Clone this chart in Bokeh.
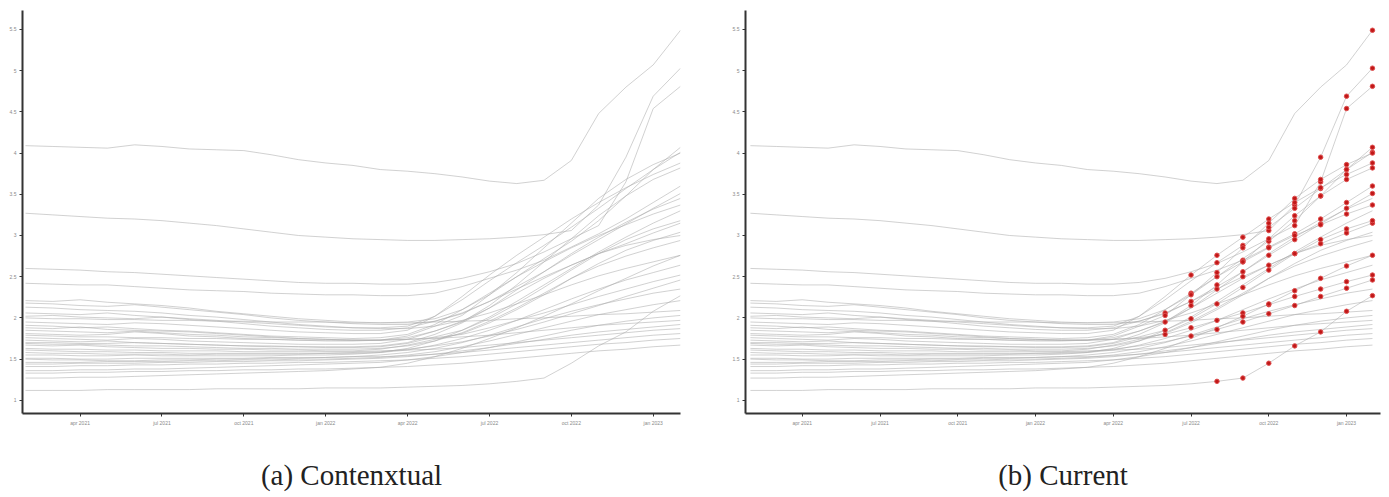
from bokeh.plotting import figure
from bokeh.layouts import row
from bokeh.models import FixedTicker, Range1d, ColumnDataSource
from bokeh.embed import file_html
from bokeh.resources import INLINE

# ---------------- data ----------------
months = list(range(25))  # feb 2021 ... feb 2023, monthly
x_tick_pos = [2, 5, 8, 11, 14, 17, 20, 23]
x_tick_labels = ["apr 2021", "jul 2021", "oct 2021", "jan 2022",
                 "apr 2022", "jul 2022", "oct 2022", "jan 2023"]
y_tick_pos = [1.0, 1.5, 2.0, 2.5, 3.0, 3.5, 4.0, 4.5, 5.0, 5.5]
y_tick_labels = ["1", "1.5", "2", "2.5", "3", "3.5", "4", "4.5", "5", "5.5"]

s01 = [4.09,4.08,4.07,4.06,4.10,4.08,4.05,4.04,4.03,3.98,3.92,3.88,3.85,3.80,3.78,3.75,3.71,3.66,3.63,3.67,3.91,4.48,4.80,5.07,5.49]
s02 = [3.27,3.25,3.23,3.21,3.20,3.18,3.15,3.12,3.08,3.04,3.00,2.98,2.96,2.95,2.94,2.94,2.95,2.96,2.98,3.01,3.06,3.37,3.95,4.69,5.03]
s03 = [2.60,2.59,2.58,2.56,2.55,2.53,2.51,2.49,2.47,2.45,2.43,2.42,2.42,2.41,2.41,2.43,2.48,2.56,2.66,2.80,2.96,3.12,3.65,4.54,4.81]
s04 = [2.42,2.41,2.40,2.40,2.38,2.36,2.34,2.33,2.32,2.30,2.29,2.28,2.28,2.27,2.27,2.30,2.38,2.48,2.58,2.70,2.86,3.02,3.20,3.40,3.60]
c01 = [2.21,2.20,2.22,2.19,2.17,2.15,2.12,2.08,2.05,2.02,1.99,1.97,1.95,1.94,1.95,1.99,2.10,2.28,2.50,2.72,2.93,3.18,3.48,3.80,4.07]
c02 = [2.18,2.17,2.15,2.14,2.16,2.13,2.10,2.07,2.04,2.00,1.97,1.95,1.93,1.92,1.92,1.96,2.05,2.20,2.38,2.56,2.76,2.95,3.14,3.33,3.51]
c03 = [2.13,2.12,2.10,2.09,2.08,2.06,2.03,2.01,1.98,1.95,1.92,1.90,1.88,1.87,1.87,1.90,1.97,2.06,2.17,2.28,2.40,2.51,2.60,2.68,2.76]
c04 = [2.06,2.05,2.04,2.06,2.03,2.01,1.99,1.97,1.95,1.93,1.91,1.89,1.88,1.88,1.90,2.02,2.22,2.45,2.67,2.88,3.10,3.33,3.57,3.80,4.01]
c05 = [2.02,2.03,2.01,2.00,1.99,2.01,1.98,1.96,1.93,1.90,1.88,1.86,1.85,1.85,1.88,1.96,2.06,2.20,2.35,2.50,2.64,2.78,2.90,3.03,3.15]
c06 = [2.00,1.99,1.99,1.98,1.98,1.97,1.97,1.96,1.96,1.95,1.95,1.95,1.94,1.94,1.94,1.95,1.96,1.97,1.99,2.00,2.02,2.04,2.05,2.07,2.09]
c07 = [1.95,1.94,1.93,1.92,1.94,1.93,1.91,1.89,1.87,1.85,1.83,1.82,1.81,1.81,1.85,2.02,2.26,2.52,2.76,2.98,3.20,3.40,3.58,3.74,3.88]
c08 = [1.91,1.90,1.88,1.89,1.87,1.85,1.84,1.82,1.80,1.78,1.77,1.76,1.75,1.76,1.80,1.92,2.10,2.30,2.50,2.68,2.85,3.00,3.13,3.26,3.37]
c09 = [1.85,1.84,1.83,1.82,1.84,1.82,1.80,1.79,1.77,1.76,1.75,1.74,1.73,1.73,1.74,1.76,1.80,1.88,1.97,2.06,2.16,2.26,2.35,2.44,2.52]
c10 = [1.81,1.80,1.79,1.80,1.83,1.81,1.78,1.77,1.75,1.74,1.73,1.72,1.72,1.73,1.78,1.90,2.03,2.28,2.55,2.85,3.15,3.45,3.68,3.86,4.00]
c11 = [1.79,1.78,1.77,1.77,1.76,1.76,1.75,1.75,1.74,1.74,1.73,1.73,1.73,1.73,1.74,1.75,1.77,1.79,1.82,1.85,1.88,1.91,1.93,1.95,1.97]
c12 = [1.76,1.75,1.74,1.73,1.75,1.74,1.72,1.71,1.70,1.69,1.68,1.68,1.68,1.69,1.74,1.84,1.95,2.15,2.40,2.68,2.96,3.24,3.48,3.68,3.82]
c13 = [1.73,1.72,1.71,1.72,1.70,1.69,1.68,1.67,1.66,1.65,1.65,1.64,1.64,1.65,1.69,1.77,1.85,1.99,2.17,2.37,2.58,2.78,2.95,3.08,3.18]
c14 = [1.69,1.68,1.68,1.67,1.66,1.66,1.65,1.64,1.63,1.63,1.62,1.62,1.62,1.63,1.66,1.72,1.82,1.96,2.12,2.30,2.48,2.63,2.75,2.85,2.94]
c15 = [1.67,1.66,1.67,1.65,1.64,1.63,1.63,1.62,1.62,1.61,1.61,1.60,1.60,1.62,1.67,1.74,1.81,1.94,2.10,2.28,2.48,2.66,2.82,2.94,3.04]
c16 = [1.63,1.62,1.62,1.61,1.61,1.60,1.60,1.60,1.59,1.59,1.59,1.59,1.59,1.60,1.61,1.62,1.64,1.67,1.70,1.73,1.76,1.79,1.82,1.85,1.87]
c17 = [1.61,1.60,1.59,1.59,1.58,1.58,1.57,1.57,1.57,1.57,1.57,1.57,1.58,1.59,1.62,1.66,1.71,1.78,1.86,1.95,2.05,2.15,2.26,2.36,2.46]
c18 = [1.58,1.57,1.57,1.56,1.56,1.56,1.55,1.56,1.56,1.56,1.56,1.57,1.57,1.58,1.61,1.67,1.75,1.85,1.97,2.10,2.23,2.35,2.46,2.55,2.64]
c19 = [1.55,1.55,1.54,1.54,1.55,1.54,1.54,1.54,1.54,1.54,1.55,1.55,1.56,1.58,1.63,1.72,1.85,2.01,2.20,2.40,2.60,2.80,2.98,3.15,3.30]
c20 = [1.51,1.51,1.50,1.50,1.51,1.51,1.51,1.51,1.51,1.52,1.52,1.52,1.53,1.53,1.54,1.56,1.58,1.61,1.64,1.67,1.70,1.73,1.76,1.79,1.81]
c21 = [1.46,1.46,1.46,1.47,1.47,1.47,1.48,1.48,1.49,1.49,1.50,1.50,1.51,1.52,1.55,1.59,1.65,1.72,1.80,1.88,1.96,2.04,2.10,2.16,2.21]
c22 = [1.41,1.41,1.42,1.42,1.43,1.43,1.44,1.44,1.45,1.45,1.46,1.46,1.47,1.48,1.49,1.51,1.53,1.56,1.59,1.62,1.65,1.68,1.70,1.73,1.75]
c23 = [1.36,1.36,1.37,1.37,1.38,1.38,1.39,1.40,1.41,1.42,1.43,1.44,1.45,1.46,1.49,1.53,1.58,1.64,1.71,1.78,1.85,1.91,1.96,2.00,2.03]
c24 = [1.33,1.33,1.34,1.34,1.35,1.35,1.36,1.36,1.37,1.37,1.38,1.38,1.39,1.40,1.41,1.43,1.45,1.48,1.51,1.54,1.57,1.60,1.62,1.65,1.67]
c25 = [1.27,1.27,1.28,1.28,1.29,1.30,1.31,1.32,1.33,1.34,1.35,1.36,1.38,1.40,1.45,1.53,1.63,1.75,1.88,2.02,2.17,2.33,2.48,2.63,2.76]
c26 = [1.12,1.12,1.12,1.13,1.13,1.13,1.13,1.14,1.14,1.14,1.14,1.15,1.15,1.15,1.16,1.17,1.18,1.20,1.23,1.27,1.45,1.66,1.83,2.08,2.27]
c27 = [1.88,1.87,1.89,1.86,1.85,1.84,1.83,1.81,1.79,1.77,1.75,1.74,1.73,1.73,1.76,1.84,1.96,2.12,2.30,2.48,2.64,2.78,2.88,2.95,3.00]
c28 = [1.70,1.70,1.69,1.69,1.70,1.69,1.68,1.67,1.66,1.66,1.65,1.65,1.65,1.66,1.70,1.80,1.94,2.12,2.34,2.56,2.78,2.98,3.16,3.32,3.45]
c29 = [1.50,1.49,1.49,1.48,1.48,1.49,1.49,1.50,1.50,1.51,1.51,1.52,1.53,1.55,1.58,1.63,1.70,1.79,1.89,1.99,2.08,2.16,2.23,2.30,2.35]
c30 = [1.44,1.44,1.45,1.45,1.45,1.46,1.46,1.47,1.47,1.48,1.48,1.49,1.50,1.51,1.53,1.56,1.60,1.64,1.69,1.74,1.79,1.83,1.86,1.89,1.92]

all_series = [s01, s02, s03, s04, c01, c02, c03, c04, c05, c06, c07, c08, c09, c10,
              c11, c12, c13, c14, c15, c16, c17, c18, c19, c20, c21, c22, c23, c24,
              c25, c26, c27, c28, c29, c30]

# month from which each highlighted series is shown as "current" (red points)
current_from = {0: 24, 1: 20, 2: 21, 3: 19, 4: 20, 5: 19, 7: 18, 8: 16, 10: 17,
                11: 17, 12: 16, 13: 16, 15: 16, 16: 16, 20: 17, 28: 19, 29: 18}

# ---------------- drawing ----------------
def make_panel(caption, width, xr, border_left, border_right, dots):
    p = figure(width=width, height=495, output_backend="svg", toolbar_location=None,
               x_range=Range1d(*xr), y_range=Range1d(0.84, 5.73),
               min_border_left=border_left, min_border_right=border_right,
               min_border_top=10, min_border_bottom=82)
    p.outline_line_color = None
    p.grid.visible = False
    p.background_fill_color = "white"

    src = ColumnDataSource(dict(xs=[months] * len(all_series), ys=all_series))
    p.multi_line("xs", "ys", source=src, line_color="#acacac", line_alpha=0.55, line_width=1)

    if dots:
        dx, dy = [], []
        for k, start in current_from.items():
            for m in range(start, len(months)):
                dx.append(months[m])
                dy.append(all_series[k][m])
        p.scatter(dx, dy, size=4.5, marker="circle", fill_color="#c01818",
                  line_color="#e05050", line_width=1)

    for ax in (p.xaxis[0], p.yaxis[0]):
        ax.axis_line_color = "#333333"
        ax.axis_line_width = 2
        ax.major_tick_line_color = "#333333"
        ax.major_tick_in = 0
        ax.major_tick_out = 3
        ax.minor_tick_line_color = None
        ax.major_label_text_font_size = "5px"
        ax.major_label_text_color = "#8a8a8a"
        ax.major_label_standoff = 3

    p.xaxis.ticker = FixedTicker(ticks=x_tick_pos)
    p.xaxis.major_label_overrides = {t: l for t, l in zip(x_tick_pos, x_tick_labels)}
    p.yaxis.ticker = FixedTicker(ticks=y_tick_pos)
    p.yaxis.major_label_overrides = {t: l for t, l in zip(y_tick_pos, y_tick_labels)}

    p.xaxis.axis_label = caption
    p.xaxis.axis_label_text_font = "Liberation Serif"
    p.xaxis.axis_label_text_font_style = "normal"
    p.xaxis.axis_label_text_font_size = "29px"
    p.xaxis.axis_label_text_color = "#222222"
    p.xaxis.axis_label_standoff = 30
    return p

pa = make_panel("(a) Contenxtual", 720, (-0.11, 24.0), 22, 40, False)
pb = make_panel("(b) Current", 662, (-0.19, 24.31), 25, 2, True)

layout = row(pa, pb)
open("out.html", "w").write(file_html(layout, INLINE))
